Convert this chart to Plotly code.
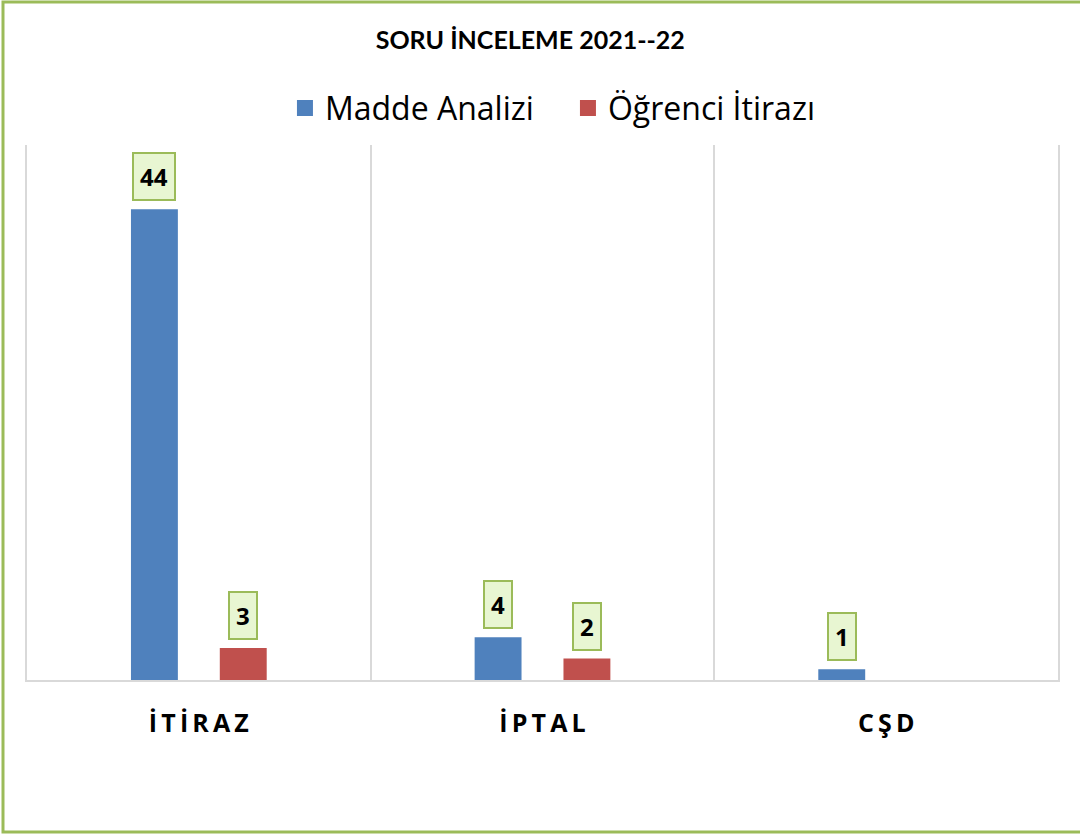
import plotly.graph_objects as go

categories = ["İTİRAZ", "İPTAL", "CŞD"]
madde_analizi = [44, 4, 1]
ogrenci_itirazi = [3, 2, None]
series_names = ["Madde Analizi", "Öğrenci İtirazı"]
title_text = "SORU İNCELEME 2021--22"

BLUE = "#4F81BD"
RED = "#C0504D"
GREEN = "#9BBB59"
GRID = "#D9D9D9"
TITLE_FONT = "Lato, 'Open Sans', sans-serif"
FONT = "'Open Sans', Lato, sans-serif"

fig = go.Figure()
for vals, name, color in ((madde_analizi, series_names[0], BLUE),
                          (ogrenci_itirazi, series_names[1], RED)):
    fig.add_trace(go.Bar(x=categories, y=vals, name=name, showlegend=False,
                         marker=dict(color=color, line=dict(width=0))))
# legend entries with larger square swatches
for name, color in ((series_names[0], BLUE), (series_names[1], RED)):
    fig.add_trace(go.Scatter(x=[None], y=[None], mode="markers", name=name,
                             marker=dict(symbol="square", size=20, color=color)))

# data labels in green boxes
for vals, shift in ((madde_analizi, -44.5), (ogrenci_itirazi, 44.5)):
    for cat, v in zip(categories, vals):
        if v is None:
            continue
        fig.add_annotation(x=cat, y=v, xref="x", yref="y", text=f"<b>{v}</b>",
                           showarrow=False, yanchor="bottom", xshift=shift, yshift=8,
                           font=dict(family=FONT, size=24, color="black"),
                           bgcolor="#E8F6D2", bordercolor=GREEN, borderwidth=2,
                           borderpad=6)

spaced = ["\u2009".join(list(c)) for c in categories]

fig.update_layout(
    width=1080, height=836,
    margin=dict(l=27, r=22, t=145, b=156),
    paper_bgcolor="white", plot_bgcolor="white",
    barmode="group", bargap=0.483, bargroupgap=0.472,
    title=dict(text=f"<b>{title_text}</b>", x=0.491, xanchor="center",
               y=1 - 40 / 836, yanchor="middle", yref="container",
               font=dict(family=TITLE_FONT, size=25, color="black")),
    legend=dict(orientation="h", x=0.2502, xanchor="left", y=1.069, yanchor="middle",
                font=dict(family=FONT, size=32, color="black"),
                entrywidth=238, entrywidthmode="pixels",
                traceorder="normal", bgcolor="rgba(0,0,0,0)"),
    showlegend=True,
    xaxis=dict(type="category", categoryorder="array", categoryarray=categories,
               tickmode="array", tickvals=categories, ticktext=spaced,
               tickson="boundaries", showgrid=True, gridcolor=GRID, gridwidth=2,
               showline=True, linecolor=GRID, linewidth=2, ticks="",
               tickfont=dict(family=FONT, size=25, color="black", weight="bold"),
               ticklabelstandoff=20, range=[-0.5, 2.5], zeroline=False),
    yaxis=dict(range=[0, 50], showgrid=False, showticklabels=False, zeroline=False,
               showline=True, mirror=True, linecolor=GRID, linewidth=2, ticks=""),
    shapes=[dict(type="rect", xref="paper", yref="paper",
                 x0=-27 / 1031 + 3 / 1031, x1=1 + 30 / 1031,
                 y0=-(832 - 680) / 535, y1=1 + (145 - 2) / 535,
                 line=dict(color=GREEN, width=3), fillcolor="rgba(0,0,0,0)", layer="below")],
)

fig.write_html("out.html", config={"displayModeBar": False},
               post_script="document.body.style.margin='0';")
